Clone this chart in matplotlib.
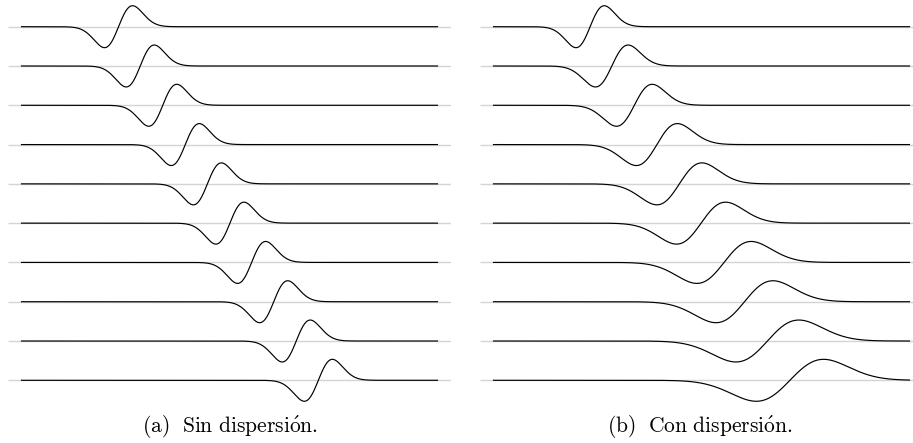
import numpy as np
import matplotlib
matplotlib.use("Agg")
import matplotlib.pyplot as plt

plt.rcParams["mathtext.fontset"] = "cm"

# Pulse centres (position units along the line, 0..100) for each snapshot
centers_no_disp = [23.4, 28.6, 34.0, 39.4, 44.7, 50.1, 55.3, 60.6, 66.0, 71.3]
widths_no_disp = [3.36, 3.36, 3.36, 3.36, 3.36, 3.36, 3.36, 3.36, 3.36, 3.36]

centers_disp = [23.3, 28.5, 33.9, 39.3, 44.7, 49.9, 55.4, 60.3, 65.8, 71.2]
widths_disp = [3.39, 3.91, 4.27, 4.92, 5.40, 5.88, 6.51, 6.83, 7.55, 8.07]

amplitude = 0.534
captions = [r"$\mathrm{(a)\ \ Sin\ dispersi\acute{o}n.}$",
            r"$\mathrm{(b)\ \ Con\ dispersi\acute{o}n.}$"]

W, H = 913, 443
fig = plt.figure(figsize=(W / 100, H / 100), dpi=100)

x = np.linspace(0, 100, 2000)


def pulse(xs, c, s, a):
    u = (xs - c) / s
    return a * u * np.exp(0.5 - 0.5 * u ** 2)


def draw_panel(left_px, centers, widths):
    width_px = 443
    ax = fig.add_axes([left_px / W, 0, width_px / W, 1])
    ax.set_xlim(-3.1, 103.1)
    ax.set_ylim(-10.596, 0.6796)
    ax.axis("off")
    for k, (c, s) in enumerate(zip(centers, widths)):
        off = -k
        ax.hlines(off, -3.1, 103.1, color="#d4d4d4", lw=1.0, zorder=1)
        ax.plot(x, off + pulse(x, c, s, amplitude), color="black",
                lw=0.85, zorder=2, solid_capstyle="butt")
    return ax


draw_panel(8, centers_no_disp, widths_no_disp)
draw_panel(480, centers_disp, widths_disp)

fig.text(230 / W, 1 - 427 / H, captions[0], ha="center", va="center",
         fontsize=15.5)
fig.text(700 / W, 1 - 427 / H, captions[1], ha="center", va="center",
         fontsize=15.5)

fig.savefig("out.png", dpi=100)
